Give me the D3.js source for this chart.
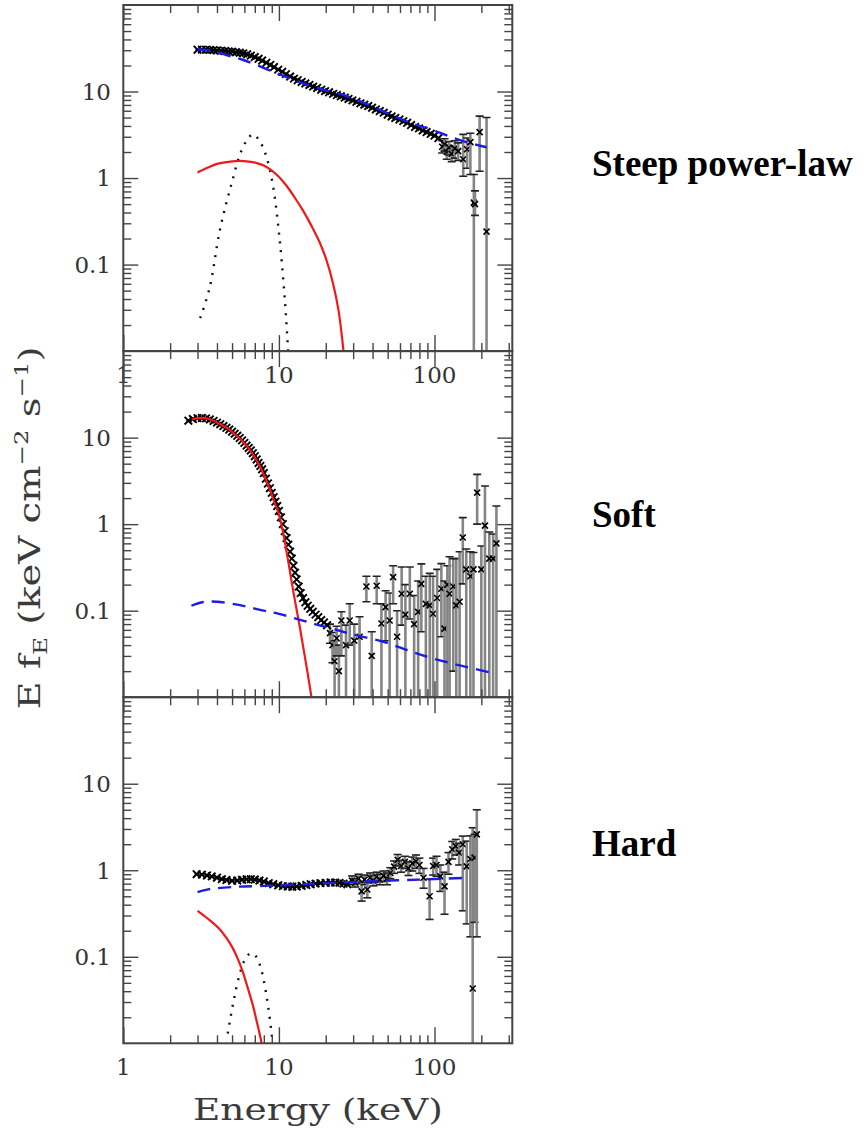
<!DOCTYPE html>
<html>
<head>
<meta charset="utf-8">
<script src="https://cdn.jsdelivr.net/npm/d3@7"></script>
<style>
body { margin: 0; background: #fff; }
svg { display: block; }
</style>
</head>
<body>
<svg></svg>
<script>
// state names written to the right of each panel
var panelNames = ["Steep power-law", "Soft", "Hard"];

// axis ticks: energy (keV) and E f_E
var xMajor = [1, 10, 100];
var xMinor = [2, 3, 4, 5, 6, 7, 8, 9, 20, 30, 40, 50, 60, 70, 80, 90, 200, 300];
var yMajor = [0.1, 1, 10];
var yMinor = [0.02, 0.03, 0.04, 0.05, 0.06, 0.07, 0.08, 0.09,
  0.2, 0.3, 0.4, 0.5, 0.6, 0.7, 0.8, 0.9, 2, 3, 4, 5, 6, 7, 8, 9,
  20, 30, 40, 50, 60, 70, 80, 90];

// ---- steep power-law state ----
// well measured bins [E, EfE]
var steepData = [[3.0,30.4],[3.2,30.5],[3.4,30.4],[3.6,30.3],[3.8,30.1],[4.0,29.8],[4.25,29.6],
  [4.5,29.4],[4.75,29.1],[5.0,28.9],[5.3,28.5],[5.6,28.1],[5.9,27.6],[6.25,26.9],[6.6,26.0],
  [7.0,25.0],[7.4,23.9],[7.8,22.8],[8.3,21.5],[8.8,20.3],[9.3,19.2],[9.9,17.9],[10.5,16.9],
  [11.1,15.9],[11.8,14.9],[12.5,14.1],[13.2,13.5],[14.0,12.9],[14.8,12.4],[15.7,11.9],
  [16.6,11.4],[17.6,11.0],[18.7,10.5],[19.8,10.1],[21,9.8],[22.3,9.4],[23.6,9.1],[25,8.8],
  [26.5,8.5],[28,8.2],[29.7,7.9],[31.5,7.6],[33.4,7.3],[35.4,7.05],[37.5,6.8],[39.7,6.5],
  [42,6.2],[44.5,5.95],[47.2,5.7],[50,5.4],[53,5.15],[56,4.95],[59.5,4.75],[63,4.55],
  [66.7,4.35],[70.7,4.1],[75,3.9],[79.5,3.75],[84,3.55],[89,3.4],[94.5,3.25],[100,3.1],[106,2.9]];
// noisy bins [E, EfE, low, high]; low 0 = bar runs off the bottom
var steepErr = [[112,2.3,1.95,2.7],[116,2.45,2.05,2.85],[120,2.0,1.65,2.4],[124,2.25,1.85,2.65],
  [129,1.9,1.55,2.3],[135,2.2,1.7,2.7],[142,2.05,1.6,2.55],[153,1.65,1.05,3.2],[162,2.15,1.3,2.9],
  [170,2.6,1.1,3.3],[179,0.52,0,1.1],[182,0.5,0.37,0.71],[195,3.4,1.2,5.2],[216,0.24,0,5.0]];
var steepPow = [[3,30.8],[3.5,30.0],[4,28.5],[4.8,25.8],[5.85,23.3],[7.5,19.6],[10,15.9],[12,14.0],
  [15,12.1],[20,10.3],[27,8.9],[35,7.4],[47,5.9],[60,4.85],[75,4.15],[89,3.8],[110,3.3],
  [131,2.93],[160,2.6],[190,2.4],[216,2.27]];
var steepDisk = [[3.0,1.16],[3.5,1.32],[3.95,1.45],[4.5,1.52],[5.0,1.56],[5.6,1.58],[6.4,1.55],
  [7.2,1.49],[8.0,1.40],[8.7,1.28],[9.8,1.07],[11.1,0.83],[12.6,0.60],[14.3,0.42],[16.2,0.28],
  [18.3,0.18],[20.3,0.11],[22.3,0.06],[24.2,0.029],[25.9,0.0108],[26.3,0.008]];
var steepLine = [[3.12,0.024],[3.58,0.053],[4.15,0.238],[4.6,0.52],[5.06,0.974],[5.57,1.8],
  [6.2,2.7],[6.8,3.2],[7.5,2.7],[8.28,1.8],[9.16,0.816],[10.1,0.199],[10.9,0.0407],[11.4,0.0118],[11.5,0.009]];

// ---- soft state ----
var softData = [[2.62,15.7],[2.8,16.4],[3.0,16.8],[3.2,16.9],[3.4,16.7],[3.6,16.2],[3.8,15.6],
  [4.0,14.9],[4.2,14.3],[4.4,13.6],[4.6,13.0],[4.8,12.4],[5.0,11.7],[5.2,11.1],[5.4,10.5],
  [5.6,9.9],[5.8,9.3],[6.0,8.7],[6.2,8.1],[6.4,7.6],[6.6,7.1],[6.8,6.6],[7.0,6.1],[7.2,5.6],
  [7.4,5.1],[7.6,4.7],[7.8,4.3],[8.0,3.9],[8.25,3.35],[8.5,2.95],[8.75,2.6],[9.0,2.3],
  [9.25,2.05],[9.5,1.82],[9.75,1.62],[10.0,1.42],[10.3,1.2],[10.6,1.0],[10.9,0.83],[11.2,0.69],
  [11.5,0.58],[11.8,0.48],[12.1,0.40],[12.4,0.33],[12.7,0.275],[13.0,0.23],[13.4,0.19],
  [13.8,0.16],[14.3,0.14],[14.8,0.125],[15.3,0.114],[15.9,0.105],[16.5,0.097],[17.2,0.09],
  [17.9,0.084],[18.7,0.078],[19.5,0.073],[20.4,0.068]];
var softErr = [[21.3,0.055,0.042,0.07],[22.1,0.04,0.025,0.056],[22.8,0.026,0,0.045],
  [23.5,0.048,0.03,0.066],[24.3,0.02,0,0.04],[25.2,0.077,0.03,0.097],[27.0,0.04,0,0.068],
  [28.5,0.077,0.04,0.12],[30.5,0.045,0,0.07],[33,0.05,0,0.085],[36.5,0.19,0.127,0.25],
  [39.5,0.030,0,0.057],[42.5,0.194,0.12,0.25],[45.6,0.071,0,0.12],[48.5,0.11,0.045,0.17],
  [51.5,0.077,0,0.16],[54.2,0.244,0.12,0.33],[57.5,0.05,0,0.1],[61.5,0.157,0.068,0.32],
  [65,0.09,0,0.2],[69.4,0.157,0.08,0.32],[74,0.07,0,0.15],[78.5,0.097,0,0.22],
  [82.3,0.204,0.057,0.347],[88,0.12,0,0.25],[93.2,0.115,0,0.27],[97.9,0.092,0,0.25],
  [104,0.14,0,0.3],[110.7,0.179,0.05,0.35],[116,0.062,0,0.22],[121,0.2,0,0.33],
  [125,0.157,0,0.42],[132,0.19,0.02,0.4],[138,0.115,0,0.4],[145,0.127,0,0.48],
  [152,0.70,0.204,1.19],[160,0.3,0,0.516],[170,0.25,0,0.48],[178,0.3,0,0.47],
  [188,2.31,1.0,3.76],[200,0.3,0,0.56],[211,0.96,0,2.76],[225,0.4,0,0.81],[238,0.4,0,0.77],[250,0.6,0,1.62]];
var softPow = [[2.74,0.114],[3.0,0.121],[3.4,0.127],[4.0,0.127],[5.0,0.12],[6.0,0.113],[8.0,0.1],
  [10,0.092],[13.5,0.079],[17,0.07],[22,0.062],[30,0.053],[46.5,0.044],[70,0.034],[98,0.028],
  [150,0.023],[245,0.0188]];
var softDisk = [[2.75,16.2],[3.0,16.8],[3.3,16.9],[3.7,16.0],[4.2,14.3],[4.7,12.7],[5.2,11.0],
  [5.8,9.2],[6.4,7.5],[7.0,5.9],[7.6,4.55],[8.2,3.35],[8.8,2.45],[9.4,1.75],[10.0,1.3],
  [10.5,0.9],[11.0,0.58],[11.75,0.29],[12.5,0.15],[13.6,0.066],[14.8,0.027],[16.1,0.0106],[16.4,0.008]];

// ---- hard state ----
var hardData = [[2.96,0.90],[3.2,0.89],[3.45,0.87],[3.7,0.85],[4.0,0.82],[4.3,0.79],[4.6,0.77],
  [5.0,0.755],[5.4,0.76],[5.8,0.775],[6.2,0.785],[6.6,0.79],[7.0,0.78],[7.5,0.76],[8.0,0.74],
  [8.6,0.71],[9.2,0.69],[9.9,0.67],[10.6,0.655],[11.4,0.65],[12.2,0.645],[13.0,0.65],[14.0,0.66],
  [15.0,0.675],[16.0,0.69],[17.2,0.70],[18.5,0.71],[20,0.715],[21.5,0.72],[23,0.72],[24.5,0.715],
  [26,0.70],[27.5,0.69]];
var hardErr = [[29.5,0.76,0.68,0.86],[31,0.72,0.64,0.8],[32.5,0.8,0.7,0.9],[34,0.57,0.44,0.73],
  [35.5,0.78,0.68,0.88],[37,0.6,0.48,0.72],[38.5,0.82,0.72,0.93],[40.5,0.76,0.66,0.87],
  [42.5,0.84,0.73,0.95],[44.5,0.78,0.68,0.9],[47,0.86,0.74,0.98],[49.5,0.8,0.68,0.93],
  [52,0.93,0.8,1.07],[55,1.1,0.92,1.28],[58,1.32,1.12,1.52],[61,1.12,0.95,1.3],
  [64.5,1.25,1.05,1.45],[68,1.05,0.87,1.25],[72,1.2,0.98,1.42],[76,1.27,1.05,1.5],
  [80,1.15,0.92,1.38],[85,0.82,0.62,1.05],[93,0.5,0.27,0.79],[98,1.12,0.88,1.38],
  [103,1.15,0.85,1.45],[109,0.85,0.57,1.15],[116,0.65,0.31,0.95],[123,1.25,0.9,1.6],
  [130,1.75,1.35,2.15],[137,1.9,1.5,2.27],[144,1.6,1.15,2.05],[152,2.0,0.34,2.48],
  [161,1.11,0.24,2.17],[170,1.35,0.17,2.5],[176,0.043,0,3.1],[181,1.4,0.25,2.6],[187,2.6,0.17,5.0]];
var hardPow = [[3,0.56],[3.5,0.6],[4,0.62],[5,0.64],[6,0.65],[8,0.66],[10,0.67],[15,0.69],
  [20,0.71],[30,0.73],[50,0.76],[80,0.78],[120,0.8],[165,0.82]];
var hardDisk = [[3.0,0.34],[3.5,0.275],[4.15,0.21],[4.6,0.165],[5.06,0.125],[5.45,0.094],
  [5.86,0.067],[6.3,0.044],[6.8,0.0276],[7.25,0.017],[7.7,0.0105],[7.9,0.008]];
var hardLine = [[4.69,0.013],[5.1,0.03],[5.57,0.061],[6.0,0.09],[6.47,0.108],[6.8,0.108],
  [7.16,0.1],[7.5,0.083],[7.87,0.061],[8.4,0.032],[8.93,0.014],[9.1,0.01]];

var panels = [
  {name: panelNames[0], data: steepData, err: steepErr, pow: steepPow, disk: steepDisk, line: steepLine, xLabels: true, nameY: 176},
  {name: panelNames[1], data: softData, err: softErr, pow: softPow, disk: softDisk, line: null, xLabels: false, nameY: 527},
  {name: panelNames[2], data: hardData, err: hardErr, pow: hardPow, disk: hardDisk, line: hardLine, xLabels: true, nameY: 856}
];

var width = 866, height = 1134;
var plotLeft = 123.3, plotRight = 512.3, plotTop = 5, panelH = 346.1;
var axisColor = "#444";
var numFont = "'DejaVu Serif', serif";

var svg = d3.select("svg").attr("width", width).attr("height", height);

var x = d3.scaleLog().domain([1, 316.2]).range([plotLeft, plotRight]);

var cross = "M-3,-3L3,3M-3,3L3,-3";
var bigCross = "M-3.8,-3.8L3.8,3.8M-3.8,3.8L3.8,-3.8";

panels.forEach(function(p, i) {
  var top = plotTop + i * panelH, bottom = top + panelH;
  var y = d3.scaleLog().domain([0.01, 100]).range([bottom, top]);
  var g = svg.append("g");

  svg.append("clipPath").attr("id", "clip" + i)
    .append("rect")
    .attr("x", plotLeft).attr("y", top)
    .attr("width", plotRight - plotLeft).attr("height", panelH);
  var plot = g.append("g").attr("clip-path", "url(#clip" + i + ")");

  // noisy bins: grey bars with black caps
  var eb = plot.selectAll(".eb").data(p.err).enter().append("g");
  eb.append("line")
    .attr("x1", function(d) { return x(d[0]); })
    .attr("x2", function(d) { return x(d[0]); })
    .attr("y1", function(d) { return y(d[3]); })
    .attr("y2", function(d) { return d[2] > 0 ? y(d[2]) : bottom + 2; })
    .attr("stroke", "#858585").attr("stroke-width", 2.6);
  eb.append("line")
    .attr("x1", function(d) { return x(d[0]) - 4; })
    .attr("x2", function(d) { return x(d[0]) + 4; })
    .attr("y1", function(d) { return y(d[3]); })
    .attr("y2", function(d) { return y(d[3]); })
    .attr("stroke", "#222").attr("stroke-width", 1.6);
  eb.filter(function(d) { return d[2] > 0; }).append("line")
    .attr("x1", function(d) { return x(d[0]) - 4; })
    .attr("x2", function(d) { return x(d[0]) + 4; })
    .attr("y1", function(d) { return y(d[2]); })
    .attr("y2", function(d) { return y(d[2]); })
    .attr("stroke", "#222").attr("stroke-width", 1.6);
  eb.append("path")
    .attr("d", cross)
    .attr("transform", function(d) { return "translate(" + x(d[0]) + "," + y(d[1]) + ")"; })
    .attr("stroke", "#000").attr("stroke-width", 1.6).attr("fill", "none");

  // well measured bins: horizontal bin bars + crosses
  var n = p.data.length;
  plot.selectAll(".bin").data(p.data).enter().append("line")
    .attr("x1", function(d, j) { return j > 0 ? (x(p.data[j - 1][0]) + x(d[0])) / 2 : x(d[0]) - 2; })
    .attr("x2", function(d, j) { return j < n - 1 ? (x(p.data[j + 1][0]) + x(d[0])) / 2 : x(d[0]) + 2; })
    .attr("y1", function(d) { return y(d[1]); })
    .attr("y2", function(d) { return y(d[1]); })
    .attr("stroke", "#111").attr("stroke-width", 2.5);
  plot.selectAll(".pt").data(p.data).enter().append("path")
    .attr("d", bigCross)
    .attr("transform", function(d) { return "translate(" + x(d[0]) + "," + y(d[1]) + ")"; })
    .attr("stroke", "#000").attr("stroke-width", 1.9).attr("fill", "none");

  // model components
  var line = d3.line()
    .x(function(d) { return x(d[0]); })
    .y(function(d) { return y(d[1]); })
    .curve(d3.curveCatmullRom);

  if (p.line) {
    plot.append("path").datum(p.line).attr("d", line)
      .attr("fill", "none").attr("stroke", "#111").attr("stroke-width", 2.4)
      .attr("stroke-dasharray", "2,7");
  }
  plot.append("path").datum(p.disk).attr("d", line)
    .attr("fill", "none").attr("stroke", "#f01818").attr("stroke-width", 2.2);
  plot.append("path").datum(p.pow).attr("d", line)
    .attr("fill", "none").attr("stroke", "#1c1ce6").attr("stroke-width", 2.4)
    .attr("stroke-dasharray", "13,8");

  // inward ticks on all four sides
  function ticks(axisFn, scale, values, size, tr) {
    var a = g.append("g").attr("transform", tr)
      .call(axisFn(scale).tickValues(values).tickSize(-size).tickFormat(""));
    a.select(".domain").remove();
    a.selectAll("line").attr("stroke", axisColor).attr("stroke-width", 1.4);
  }
  ticks(d3.axisBottom, x, xMajor, 16, "translate(0," + bottom + ")");
  ticks(d3.axisBottom, x, xMinor, 8, "translate(0," + bottom + ")");
  ticks(d3.axisTop, x, xMajor, 16, "translate(0," + top + ")");
  ticks(d3.axisTop, x, xMinor, 8, "translate(0," + top + ")");
  ticks(d3.axisLeft, y, yMajor, 15, "translate(" + plotLeft + ",0)");
  ticks(d3.axisLeft, y, yMinor, 8, "translate(" + plotLeft + ",0)");
  ticks(d3.axisRight, y, yMajor, 15, "translate(" + plotRight + ",0)");
  ticks(d3.axisRight, y, yMinor, 8, "translate(" + plotRight + ",0)");

  // frame
  g.append("rect")
    .attr("x", plotLeft).attr("y", top)
    .attr("width", plotRight - plotLeft).attr("height", panelH)
    .attr("fill", "none").attr("stroke", axisColor).attr("stroke-width", 2);

  // y tick labels
  g.selectAll(".ylab").data(yMajor).enter().append("text")
    .attr("x", 111).attr("y", function(d) { return y(d); })
    .attr("dy", "0.36em").attr("text-anchor", "end")
    .style("font-family", numFont).style("font-size", "23px").style("fill", "#333")
    .text(function(d) { return d; });

  // x tick labels under the top and bottom panels
  if (p.xLabels) {
    g.selectAll(".xlab").data(xMajor).enter().append("text")
      .attr("x", function(d) { return x(d); }).attr("y", bottom + 32)
      .attr("text-anchor", "middle")
      .style("font-family", numFont).style("font-size", "23px").style("fill", "#333")
      .text(function(d) { return d; });
  }

  // state name
  svg.append("text")
    .attr("x", 592).attr("y", p.nameY)
    .style("font-family", "'Liberation Serif', 'Times New Roman', serif")
    .style("font-weight", "bold").style("font-size", "37px").style("fill", "#000")
    .text(p.name);
});

// axis titles
svg.append("text")
  .attr("x", 318).attr("y", 1120).attr("text-anchor", "middle")
  .attr("textLength", 250).attr("lengthAdjust", "spacingAndGlyphs")
  .style("font-family", numFont).style("font-size", "30px").style("fill", "#3a3a3a")
  .text("Energy (keV)");

var yl = svg.append("text")
  .attr("transform", "translate(40,528) rotate(-90)")
  .attr("text-anchor", "middle")
  .attr("textLength", 363).attr("lengthAdjust", "spacingAndGlyphs")
  .style("font-family", numFont).style("font-size", "30px").style("fill", "#3a3a3a");
yl.append("tspan").text("E f");
yl.append("tspan").attr("dy", 7).style("font-size", "19px").text("E");
yl.append("tspan").attr("dy", -7).text(" (keV cm");
yl.append("tspan").attr("dy", -12).style("font-size", "19px").text("\u22122");
yl.append("tspan").attr("dy", 12).text(" s");
yl.append("tspan").attr("dy", -12).style("font-size", "19px").text("\u22121");
yl.append("tspan").attr("dy", 12).text(")");
</script>
</body>
</html>
